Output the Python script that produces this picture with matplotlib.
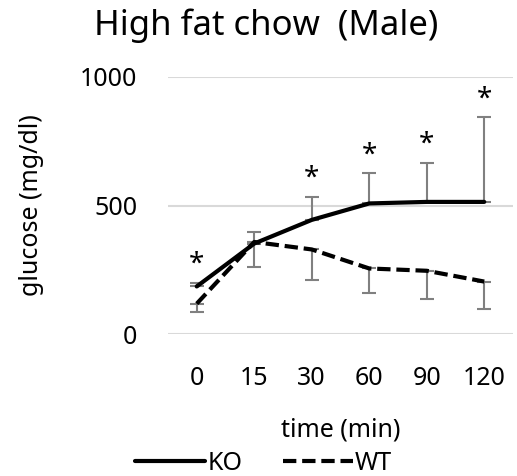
#!/usr/bin/env python3

import numpy as np
import matplotlib
matplotlib.use('Agg')
import matplotlib.pyplot as plt

# data
times = ['0', '15', '30', '60', '90', '120']
ko_mean = [185, 352, 444, 508, 514, 514]
ko_err_up = [15, 44, 88, 117, 153, 329]
wt_mean = [118, 358, 329, 255, 246, 204]
wt_err_down = [34, 99, 119, 97, 111, 108]
signif = [True, False, True, True, True, True]

yticks = [0, 500, 1000]

plt.rcParams['font.family'] = ['Noto Sans', 'DejaVu Sans']

fig = plt.figure(figsize=(5.17, 4.76), dpi=100)
ax = fig.add_axes([168 / 517, 1 - 334 / 476, 345 / 517, 257 / 476])

x = np.arange(len(times))
err_col = '#808080'

ax.errorbar(x, ko_mean, yerr=[np.zeros(len(x)), ko_err_up], fmt='none',
            ecolor=err_col, elinewidth=1.5, capsize=5, capthick=1.5, zorder=2)
ax.errorbar(x, wt_mean, yerr=[wt_err_down, np.zeros(len(x))], fmt='none',
            ecolor=err_col, elinewidth=1.5, capsize=5, capthick=1.5, zorder=2)

ax.plot(x, ko_mean, color='black', lw=3, solid_capstyle='round', label='KO', zorder=3)
ax.plot(x, wt_mean, color='black', lw=3, ls=(0, (3.2, 1.4)), label='WT', zorder=3)

# significance stars above the KO error bars
for i, s in enumerate(signif):
    if s:
        ax.annotate('*', (x[i], ko_mean[i] + ko_err_up[i]), xytext=(0, 3),
                    textcoords='offset points', ha='center', va='bottom',
                    fontsize=20, fontweight='light')

ax.set_xlim(-0.5, len(times) - 0.5)
ax.set_ylim(0, 1000)
ax.set_yticks(yticks)
ax.set_xticks(x)
ax.set_xticklabels(times)
ax.yaxis.grid(True, color='#d9d9d9', lw=1.5)
ax.set_axisbelow(True)
for sp in ax.spines.values():
    sp.set_visible(False)
ax.tick_params(length=0, labelsize=18, pad=22)
ax.tick_params(axis='x', pad=23)

ax.set_ylabel('glucose (mg/dl)', fontsize=18, labelpad=26)
ax.set_xlabel('time (min)', fontsize=18, labelpad=19)

fig.text(0.515, 0.945, 'High fat chow  (Male)', ha='center', va='center', fontsize=25)

fig.legend(loc='center', bbox_to_anchor=(0.51, 0.026), ncol=2, frameon=False,
           fontsize=18, handlelength=2.8, handletextpad=0.1, columnspacing=1.6)

plt.savefig('out.png', dpi=100)
